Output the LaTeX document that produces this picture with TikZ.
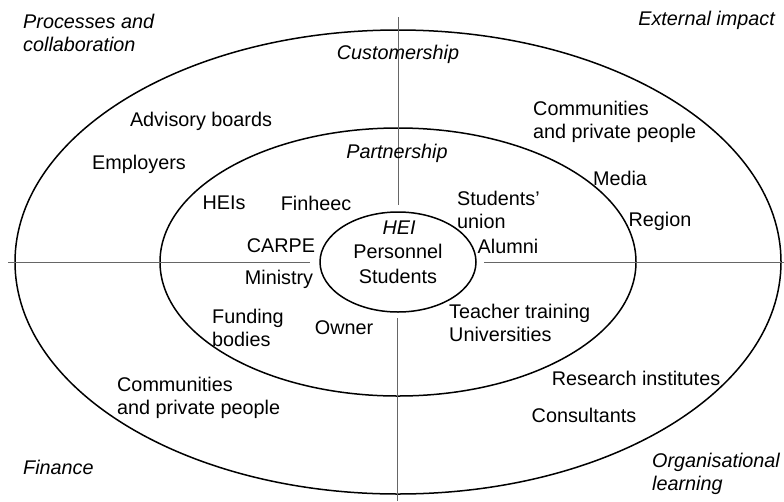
\documentclass[tikz,border=0pt]{standalone}
\usepackage{fontspec}
\setmainfont{Liberation Sans}
\usetikzlibrary{shapes.geometric}
\tikzset{
    x=1pt, y=-1pt, % pixel-like units, y running downwards
    every node/.style={font=\fontsize{19.8}{23.5}\selectfont, inner sep=0pt}, % plain text, no padding
    field/.style={font=\fontsize{19.8}{23.5}\selectfont\itshape}, % corner and ring titles
    leftblock/.style={anchor=west, align=left}, % multi-line names, left aligned
    ring/.style={draw, ellipse, line width=1.5pt}, % the three circles of stakeholders
    axis/.style={draw=black!60, line width=0.8pt}, % the cross dividing the four fields
}

\begin{document}
\begin{tikzpicture}
    \useasboundingbox (0,0) rectangle (784,501);

    % rings
    \node[ring, minimum width=766pt, minimum height=464pt] (outer) at (398,262) {};
    \node[ring, minimum width=476pt, minimum height=268pt] (middle) at (398,262) {};
    \node[ring, minimum width=156pt, minimum height=100pt] (core) at (398,262) {};

    % axes
    \coordinate (vtop) at (398,17);
    \coordinate (vmid) at (398,205);
    \coordinate (vlow) at (397,318);
    \coordinate (vbot) at (397,501);
    \coordinate (hleft) at (8,262);
    \coordinate (hin) at (310,262);
    \coordinate (hout) at (484,262);
    \coordinate (hright) at (784,262);
    \draw[axis] (vtop) -- (vmid);
    \draw[axis] (vlow) -- (vbot);
    \draw[axis] (hleft) -- (hin);
    \draw[axis] (hout) -- (hright);

    % corner fields
    \node[field, leftblock] (processes) at (23,33) {Processes and\\collaboration};
    \node[field, anchor=east] (external) at (775,20) {External impact};
    \node[field, anchor=west] (finance) at (23,467) {Finance};
    \node[field, leftblock] (learning) at (652,474) {Organisational\\learning};

    % ring titles
    \node[field] (customership) at (398,54) {Customership};
    \node[field] (partnership) at (397,153) {Partnership};
    \node[field] (hei) at (399,228) {HEI};
    \node (personnel) at (398,251) {Personnel};
    \node (students) at (398,276) {Students};

    % outer ring
    \node (advisory) at (201,121) {Advisory boards};
    \node (employers) at (139,164) {Employers};
    \node[leftblock] (commup) at (533,122) {Communities\\and private people};
    \node[leftblock] (commlow) at (117,398) {Communities\\and private people};
    \node (research) at (636,378) {Research institutes};
    \node (consultants) at (584,415) {Consultants};

    % middle ring
    \node (heis) at (224,203) {HEIs};
    \node (finheec) at (316,203) {Finheec};
    \node (carpe) at (281,246) {CARPE};
    \node (ministry) at (279,279) {Ministry};
    \node[leftblock] (funding) at (212,328) {Funding\\bodies};
    \node (owner) at (344,328) {Owner};
    \node[leftblock] (union) at (457,210) {Students'\\union};
    \node (alumni) at (508,246) {Alumni};
    \node (media) at (620,178) {Media};
    \node (region) at (660,221) {Region};
    \node[leftblock] (teacher) at (449,323) {Teacher training\\Universities};
\end{tikzpicture}
\end{document}
